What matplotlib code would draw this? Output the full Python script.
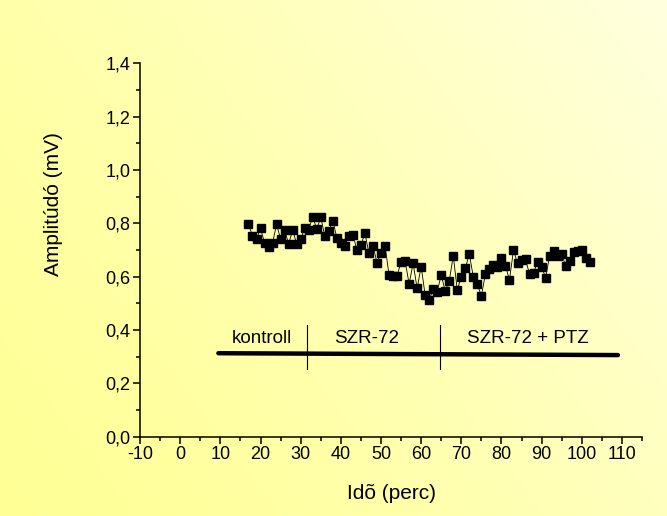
import numpy as np
import matplotlib
matplotlib.use("Agg")
import matplotlib.pyplot as plt
from matplotlib.ticker import MultipleLocator, FuncFormatter

plt.rcParams['font.family'] = ['Liberation Sans', 'DejaVu Sans']
plt.rcParams['axes.unicode_minus'] = False

# amplitude measured every minute
ido = list(range(17, 103))
amplitudo = [
    0.796, 0.754, 0.741, 0.781, 0.727, 0.711, 0.727, 0.796, 0.741, 0.776,
    0.722, 0.776, 0.722, 0.741, 0.781, 0.776, 0.825, 0.778, 0.823, 0.753,
    0.770, 0.810, 0.746, 0.725, 0.716, 0.754, 0.758, 0.700, 0.719, 0.763,
    0.688, 0.716, 0.653, 0.688, 0.716, 0.607, 0.603, 0.603, 0.656, 0.659,
    0.573, 0.650, 0.556, 0.638, 0.531, 0.513, 0.553, 0.544, 0.606, 0.546,
    0.585, 0.678, 0.550, 0.600, 0.631, 0.685, 0.598, 0.571, 0.528, 0.610,
    0.630, 0.644, 0.638, 0.669, 0.640, 0.588, 0.700, 0.650, 0.663, 0.665,
    0.609, 0.615, 0.656, 0.638, 0.596, 0.679, 0.697, 0.678, 0.685, 0.640,
    0.660, 0.694, 0.697, 0.700, 0.669, 0.656,
]

# treatment periods drawn as a bar under the data
bar_x = [9.5, 109.0]
bar_y = [0.313, 0.306]
hatar_x = [31.5, 64.7]
hatar_y = [0.253, 0.419]
szakasz_nev = ['kontroll', 'SZR-72', 'SZR-72 + PTZ']
szakasz_x = [20.3, 46.5, 86.6]
szakasz_y = 0.37

fig = plt.figure(figsize=(6.67, 5.16), dpi=100)

# yellow gradient background
bg = fig.add_axes([0, 0, 1, 1], zorder=-10)
gx, gy = np.meshgrid(np.linspace(0, 1, 300), np.linspace(0, 1, 300))
t = np.clip(0.6 * gx + 0.35 * gy, 0, 1) ** 1.3
c0 = np.array([255, 255, 150]) / 255.0
c1 = np.array([255, 255, 228]) / 255.0
img = c0[None, None, :] * (1 - t[..., None]) + c1[None, None, :] * t[..., None]
bg.imshow(img, origin='lower', aspect='auto', extent=[0, 1, 0, 1])
bg.axis('off')

ax = fig.add_axes([0.21, 0.1537, 0.7525, 0.7236])
ax.patch.set_alpha(0)

ax.plot(ido, amplitudo, color='black', lw=0.6, marker='s', ms=6,
        mfc='black', mec='black', zorder=3)

ax.plot(bar_x, bar_y, color='black', lw=3.2, solid_capstyle='round')
for hx in hatar_x:
    ax.plot([hx, hx], hatar_y, color='black', lw=0.8)
for nev, sx in zip(szakasz_nev, szakasz_x):
    ax.text(sx, szakasz_y, nev, ha='center', va='center', fontsize=13.5)

ax.set_xlim(-10, 115)
ax.set_ylim(0, 1.4)
ax.set_xticks(np.arange(-10, 111, 10))
ax.xaxis.set_minor_locator(MultipleLocator(5))
ax.yaxis.set_major_locator(MultipleLocator(0.2))
ax.yaxis.set_minor_locator(MultipleLocator(0.1))
ax.yaxis.set_major_formatter(FuncFormatter(lambda v, p: f"{v:.1f}".replace('.', ',')))

for s in ['top', 'right']:
    ax.spines[s].set_visible(False)
for s in ['left', 'bottom']:
    ax.spines[s].set_linewidth(1.1)
ax.tick_params(which='major', direction='out', length=5, width=1.1, labelsize=13, pad=2)
ax.tick_params(which='minor', direction='out', length=3, width=1.1)

ax.set_xlabel('Idõ (perc)', fontsize=15, va='center')
ax.set_ylabel('Amplitúdó (mV)', fontsize=15, va='center')
ax.xaxis.set_label_coords(0.5, -0.151)
ax.yaxis.set_label_coords(-0.173, 0.623)

fig.savefig('out.png', dpi=100)
